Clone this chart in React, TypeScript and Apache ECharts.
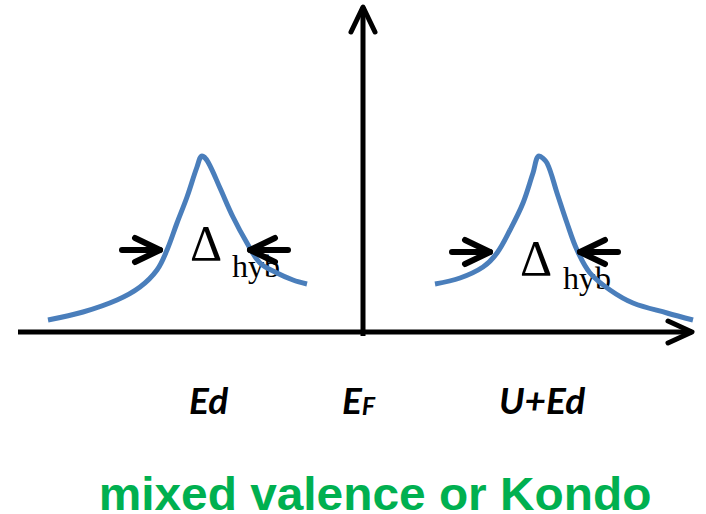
import React, { useEffect, useRef } from 'react'
import * as echarts from 'echarts'

// energy axis (x) runs from -363 to 343, density of states (y) from -182 to 332, E_F at 0
const lowerPeak: [number, number][] = [
  [-315, 12], [-280, 20], [-246, 32], [-223, 45], [-206, 62], [-196, 82],
  [-186, 109], [-176, 135], [-166, 165], [-161, 176], [-155, 170], [-143, 144],
  [-130, 115], [-116, 89], [-103, 69], [-86, 59], [-70, 52], [-56, 48],
]
const upperPeak: [number, number][] = [
  [72, 48], [97, 54], [120, 65], [134, 79], [147, 102], [160, 129],
  [170, 159], [176, 176], [184, 169], [194, 139], [204, 109], [214, 82],
  [227, 59], [247, 42], [270, 29], [304, 19], [330, 12],
]

const energyAxis: [number, number][] = [[-345, 0], [329, 0]]
const energyHead: [number, number][] = [[305, 11], [329, 0], [305, -11]]
const dosAxis: [number, number][] = [[0, -4], [0, 325]]
const dosHead: [number, number][] = [[-12, 300], [0, 325], [12, 300]]

// width markers: [shaft, head]
const widthArrows: [number, number][][] = [
  [[-241, 82], [-203, 82]], [[-228, 94], [-203, 82], [-228, 70]],
  [[-75, 82], [-113, 82]], [[-88, 94], [-113, 82], [-88, 70]],
  [[89, 80], [127, 80]], [[102, 92], [127, 80], [102, 68]],
  [[255, 80], [217, 80]], [[242, 92], [217, 80], [242, 68]],
]

const caption = 'mixed valence or Kondo'

const App: React.FC = () => {
  const chartRef = useRef<HTMLDivElement>(null)

  useEffect(() => {
    if (!chartRef.current) return
    const chart = echarts.init(chartRef.current, undefined, { renderer: 'svg' })

    const black = (data: [number, number][], width: number) => ({
      type: 'line' as const,
      data,
      symbol: 'none',
      silent: true,
      lineStyle: { color: '#000', width, cap: 'round', join: 'round' },
    })

    const peak = (data: [number, number][]) => ({
      type: 'line' as const,
      data,
      smooth: 0.35,
      symbol: 'none',
      silent: true,
      lineStyle: { color: '#4a7ebb', width: 5 },
    })

    const serif = '"Liberation Serif", "Times New Roman", serif'
    const italicSans = 'Lato, "Noto Sans", sans-serif'

    chart.setOption({
      animation: false,
      backgroundColor: '#fff',
      grid: { left: 0, right: 0, top: 0, bottom: 0 },
      xAxis: { type: 'value', min: -363, max: 343, show: false },
      yAxis: { type: 'value', min: -182, max: 332, show: false },
      series: [
        { ...black(energyAxis, 5), lineStyle: { color: '#000', width: 5, cap: 'butt' } },
        black(energyHead, 5),
        { ...black(dosAxis, 5), lineStyle: { color: '#000', width: 5, cap: 'butt' } },
        black(dosHead, 5),
        peak(lowerPeak),
        peak(upperPeak),
        ...widthArrows.map(a => black(a, 6)),
      ],
      graphic: [
        { type: 'text', x: 190, y: 243, style: { text: 'Δ', font: `50px ${serif}`, fill: '#000', verticalAlign: 'middle' } },
        { type: 'text', x: 232, y: 266, style: { text: 'hyb', font: `32px ${serif}`, fill: '#000', verticalAlign: 'middle' } },
        { type: 'text', x: 520, y: 258, style: { text: 'Δ', font: `50px ${serif}`, fill: '#000', verticalAlign: 'middle' } },
        { type: 'text', x: 563, y: 278, style: { text: 'hyb', font: `32px ${serif}`, fill: '#000', verticalAlign: 'middle' } },
        { type: 'text', x: 189, y: 399, style: { text: 'Ed', font: `italic bold 37px ${italicSans}`, fill: '#000', verticalAlign: 'middle' } },
        {
          type: 'text', x: 342, y: 399,
          style: {
            text: '{a|E}{b|F}',
            verticalAlign: 'middle',
            rich: {
              a: { font: `italic bold 37px ${italicSans}`, fill: '#000', verticalAlign: 'bottom' },
              b: { font: `italic bold 25px ${italicSans}`, fill: '#000', verticalAlign: 'bottom' },
            },
          },
        },
        { type: 'text', x: 499, y: 399, style: { text: 'U+Ed', font: `italic bold 37px ${italicSans}`, fill: '#000', verticalAlign: 'middle' } },
        {
          type: 'text', x: 375, y: 494, scaleX: 1.04,
          style: {
            text: caption,
            font: 'bold 46px "Liberation Sans", Arial, sans-serif',
            lineHeight: 36,
            fill: '#00b050',
            align: 'center',
            verticalAlign: 'middle',
          },
        },
      ],
    })

    return () => chart.dispose()
  }, [])

  return (
    <div
      ref={chartRef}
      style={{ position: 'absolute', left: 0, top: 0, width: 706, height: 514 }}
    />
  )
}

export default App
